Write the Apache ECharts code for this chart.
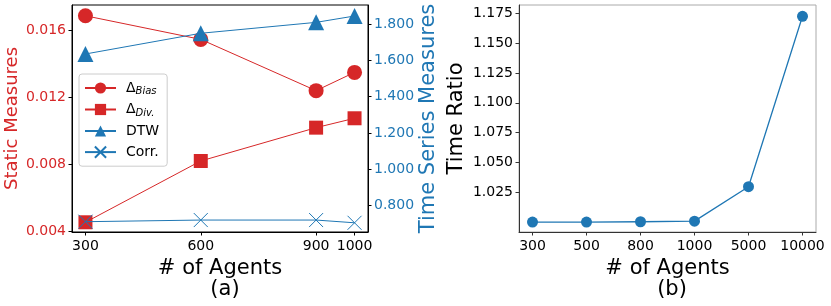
<!DOCTYPE html>
<html>
<head>
<meta charset="utf-8">
<script src="https://cdn.jsdelivr.net/npm/echarts@6/dist/echarts.min.js"></script>
<style>html,body{margin:0;padding:0;background:#fff}#c{width:831px;height:306px}</style>
</head>
<body>
<div id="c"></div>
<script>
// ---- data ----
const agentsA = [300, 600, 900, 1000];
const bias = [0.01685, 0.01544, 0.01238, 0.01347];
const div = [0.00452, 0.00818, 0.01017, 0.01073];
const dtw = [1.635, 1.749, 1.809, 1.844];
const corr = [0.712, 0.721, 0.721, 0.706];
const leftTicks = [0.004, 0.008, 0.012, 0.016];
const rightTicks = [0.8, 1.0, 1.2, 1.4, 1.6, 1.8];

const agentsB = ['300', '500', '800', '1000', '5000', '10000'];
const ratio = [1.0, 1.0, 1.0003, 1.0008, 1.0297, 1.1725];
const ratioTicks = [1.025, 1.05, 1.075, 1.1, 1.125, 1.15, 1.175];

const RED = '#d62728', BLUE = '#1f77b4';
const FONT = 'DejaVu Sans';
const pair = (xs, ys) => xs.map((x, i) => [x, ys[i]]);
const idx = agentsB.map((_, i) => i);

const chart = echarts.init(document.getElementById('c'), null, {renderer: 'canvas'});
const tickStyle = (c) => ({show: true, length: 3.5, inside: false, lineStyle: {color: c, width: 1}});

chart.setOption({
  animation: false,
  textStyle: {fontFamily: FONT},
  grid: [
    {left: 72, top: 5, width: 296, height: 227, show: true, borderColor: '#000', borderWidth: 1, backgroundColor: 'transparent'},
    {left: 519, top: 5, width: 297, height: 227, show: true, borderColor: '#aaa', borderWidth: 1, backgroundColor: 'transparent'}
  ],
  title: [
    {text: '(a)', left: 220, top: 274, textAlign: 'center', textStyle: {fontFamily: FONT, fontSize: 21, fontWeight: 'normal', color: '#000'}},
    {text: '(b)', left: 667, top: 274, textAlign: 'center', textStyle: {fontFamily: FONT, fontSize: 21, fontWeight: 'normal', color: '#000'}}
  ],
  legend: {
    orient: 'vertical', left: 79, top: 74, width: 88,
    padding: [7, 8, 6, 5], itemGap: 6, itemWidth: 31, itemHeight: 14,
    backgroundColor: 'rgba(255,255,255,0.8)', borderColor: '#ccc', borderWidth: 1, borderRadius: 3,
    data: ['Bias', 'Div', 'DTW', 'Corr.'],
    formatter: function (n) {
      if (n === 'Bias') return '{d|Δ}{s|Bias}';
      if (n === 'Div') return '{d|Δ}{s|Div.}';
      return '{d|' + n + '}';
    },
    textStyle: {
      padding: [0, 0, 0, 5],
      rich: {
        d: {fontFamily: FONT, fontSize: 14, color: '#000'},
        s: {fontFamily: FONT, fontSize: 10, fontStyle: 'italic', color: '#000', padding: [7, 0, 0, 0]}
      }
    }
  },
  xAxis: [
    {type: 'value', gridIndex: 0, min: 265, max: 1035, splitLine: {show: false},
     axisLine: {show: true, onZero: false, lineStyle: {color: '#000'}},
     axisTick: Object.assign(tickStyle('#000'), {customValues: agentsA}),
     axisLabel: {customValues: agentsA, margin: 7, fontSize: 14, color: '#000', fontFamily: FONT,
       formatter: v => String(v)},
     name: '# of Agents', nameLocation: 'middle', nameGap: 21,
     nameTextStyle: {fontSize: 21, color: '#000', fontFamily: FONT}},
    {type: 'value', gridIndex: 1, min: -0.25, max: 5.25, splitLine: {show: false},
     axisLine: {show: true, onZero: false, lineStyle: {color: '#333'}},
     axisTick: Object.assign(tickStyle('#333'), {customValues: idx}),
     axisLabel: {customValues: idx, margin: 7, fontSize: 14, color: '#000', fontFamily: FONT,
       formatter: v => agentsB[Math.round(v)]},
     name: '# of Agents', nameLocation: 'middle', nameGap: 21,
     nameTextStyle: {fontSize: 21, color: '#000', fontFamily: FONT}}
  ],
  yAxis: [
    {type: 'value', gridIndex: 0, position: 'left', min: 0.00394, max: 0.017493, splitLine: {show: false},
     axisLine: {show: true, onZero: false, lineStyle: {color: '#000'}},
     axisTick: Object.assign(tickStyle('#000'), {customValues: leftTicks}),
     axisLabel: {customValues: leftTicks, margin: 6, fontSize: 14, color: RED, fontFamily: FONT,
       formatter: v => v.toFixed(3)},
     name: 'Static Measures', nameLocation: 'middle', nameGap: 51,
     nameTextStyle: {fontSize: 18, color: RED, fontFamily: FONT}},
    {type: 'value', gridIndex: 0, position: 'right', min: 0.6553, max: 1.9046, splitLine: {show: false},
     axisLine: {show: true, onZero: false, lineStyle: {color: '#000'}},
     axisTick: Object.assign(tickStyle('#000'), {customValues: rightTicks}),
     axisLabel: {customValues: rightTicks, margin: 6, fontSize: 14, color: BLUE, fontFamily: FONT,
       formatter: v => v.toFixed(3)},
     name: 'Time Series Measures', nameLocation: 'middle', nameGap: 50,
     nameTextStyle: {fontSize: 21, color: BLUE, fontFamily: FONT}},
    {type: 'value', gridIndex: 1, min: 0.99172, max: 1.18196, splitLine: {show: false},
     axisLine: {show: true, onZero: false, lineStyle: {color: '#333'}},
     axisTick: Object.assign(tickStyle('#333'), {customValues: ratioTicks}),
     axisLabel: {customValues: ratioTicks, margin: 6, fontSize: 14, color: '#000', fontFamily: FONT,
       formatter: v => v.toFixed(3)},
     name: 'Time Ratio', nameLocation: 'middle', nameGap: 52,
     nameTextStyle: {fontSize: 21, color: '#000', fontFamily: FONT}}
  ],
  series: [
    {name: 'Bias', type: 'line', xAxisIndex: 0, yAxisIndex: 0, data: pair(agentsA, bias),
     symbol: 'circle', symbolSize: 15, lineStyle: {color: RED, width: 1}, itemStyle: {color: RED}, z: 2},
    {name: 'Div', type: 'line', xAxisIndex: 0, yAxisIndex: 0, data: pair(agentsA, div),
     symbol: 'rect', symbolSize: 14, lineStyle: {color: RED, width: 1}, itemStyle: {color: RED}, z: 3},
    {name: 'DTW', type: 'line', xAxisIndex: 0, yAxisIndex: 1, data: pair(agentsA, dtw),
     symbol: 'triangle', symbolSize: 16, lineStyle: {color: BLUE, width: 1}, itemStyle: {color: BLUE}, z: 4},
    {name: 'Corr.', type: 'line', xAxisIndex: 0, yAxisIndex: 1, data: pair(agentsA, corr),
     symbol: 'path://M0,0L10,10M10,0L0,10', symbolSize: 14, lineStyle: {color: BLUE, width: 1},
     itemStyle: {color: 'none', borderColor: BLUE, borderWidth: 1}, z: 5},
    {name: 'ratio', type: 'line', xAxisIndex: 1, yAxisIndex: 2, data: pair(idx, ratio),
     symbol: 'circle', symbolSize: 11, lineStyle: {color: BLUE, width: 1.3}, itemStyle: {color: BLUE}}
  ]
});
</script>
</body>
</html>
